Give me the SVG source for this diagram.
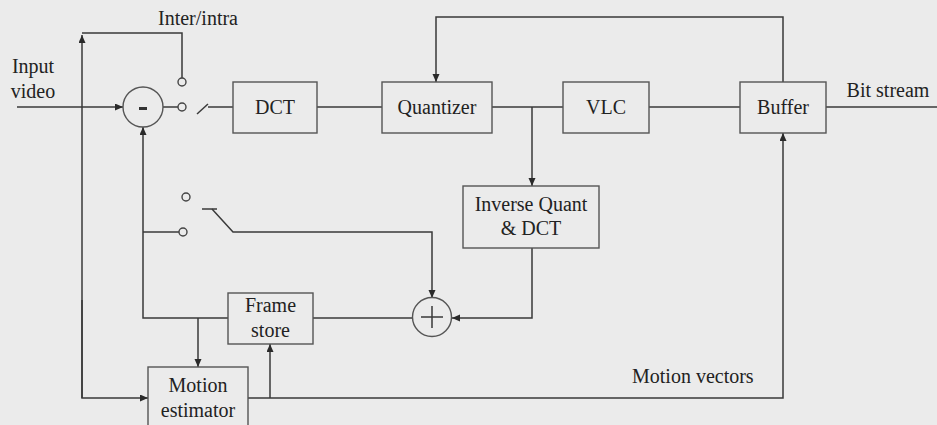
<svg xmlns="http://www.w3.org/2000/svg" width="937" height="425" viewBox="0 0 937 425">
<style>
.bg{fill:#ebebeb}
.box{fill:none;stroke:#555;stroke-width:1.4}
.ln{fill:none;stroke:#3a3a3a;stroke-width:1.5}
.arr{marker-end:url(#ah)}
.t{font-family:"Liberation Serif","Times New Roman",serif;font-size:20px;fill:#222;text-anchor:middle}
.ts{text-anchor:start}
.ring{fill:none;stroke:#555;stroke-width:1.4}
.contact{fill:none;stroke:#444;stroke-width:1.4}
</style>
<defs>
<marker id="ah" markerUnits="userSpaceOnUse" markerWidth="9" markerHeight="8" refX="8" refY="3.5" orient="auto">
<path d="M0,0 L8,3.5 L0,7 z" fill="#2a2a2a"/>
</marker>
</defs>
<rect class="bg" x="0" y="0" width="937" height="425"/>

<g id="connectors">
<path class="ln arr" d="M17,107 H123"/>
<path class="ln" d="M163,107 H178"/>
<path class="ln arr" d="M82,398 V107 V35"/>
<path class="ln" d="M82,33 H182 V78"/>
<path class="ln arr" d="M82,300 V398 H148"/>
<path class="ln" d="M197,114 L208,104"/>
<path class="ln" d="M208,107 H233"/>
<path class="ln" d="M317,107 H382"/>
<path class="ln" d="M492,107 H563"/>
<path class="ln arr" d="M532,107 V186"/>
<path class="ln" d="M649,107 H740"/>
<path class="ln" d="M826,107 H937"/>
<path class="ln arr" d="M783,82 V17 H436 V82"/>
<path class="ln arr" d="M532,248 V318 H452"/>
<path class="ln" d="M313,318 H412"/>
<path class="ln arr" d="M228,318 H143 V127"/>
<path class="ln" d="M143,232 H179"/>
<path class="ln" d="M202,209 H217"/>
<path class="ln arr" d="M212,209 L233,232 H432 V298"/>
<path class="ln arr" d="M198,318 V367"/>
<path class="ln arr" d="M248,398 H783 V133"/>
<path class="ln arr" d="M270,398 V344"/>
</g>

<g id="subtractor">
<circle class="ring" cx="143" cy="107" r="20"/>
<rect x="139" y="107" width="8" height="3" fill="#333"/>
</g>
<g id="switch-inter-intra">
<circle class="contact" cx="182" cy="82" r="4"/>
<circle class="contact" cx="182" cy="107" r="4"/>
</g>
<g id="switch-loop">
<circle class="contact" cx="186" cy="197" r="4"/>
<circle class="contact" cx="183" cy="232" r="4"/>
</g>
<g id="adder">
<circle class="ring" cx="432" cy="317" r="19.5"/>
<path class="ln" d="M421,317 H443 M432,306 V328"/>
</g>

<g id="dct">
<rect class="box" x="233" y="82" width="84" height="51"/>
<text class="t" x="275" y="114">DCT</text>
</g>
<g id="quantizer">
<rect class="box" x="382" y="82" width="110" height="51"/>
<text class="t" x="437" y="114">Quantizer</text>
</g>
<g id="vlc">
<rect class="box" x="563" y="82" width="86" height="51"/>
<text class="t" x="606" y="114">VLC</text>
</g>
<g id="buffer">
<rect class="box" x="740" y="82" width="86" height="51"/>
<text class="t" x="783" y="114">Buffer</text>
</g>
<g id="inverse-quant">
<rect class="box" x="463" y="186" width="136" height="62"/>
<text class="t" x="531" y="211">Inverse Quant</text>
<text class="t" x="531" y="235">&amp; DCT</text>
</g>
<g id="frame-store">
<rect class="box" x="228" y="293" width="85" height="51"/>
<text class="t" x="270.5" y="312">Frame</text>
<text class="t" x="270.5" y="337">store</text>
</g>
<g id="motion-estimator">
<rect class="box" x="148" y="367" width="100" height="62"/>
<text class="t" x="198" y="392">Motion</text>
<text class="t" x="198" y="417">estimator</text>
</g>

<g id="labels">
<text class="t" x="198" y="25">Inter/intra</text>
<text class="t" x="33" y="73">Input</text>
<text class="t" x="33" y="98">video</text>
<text class="t" x="888" y="97">Bit stream</text>
<text class="t ts" x="632" y="383">Motion vectors</text>
</g>
</svg>
